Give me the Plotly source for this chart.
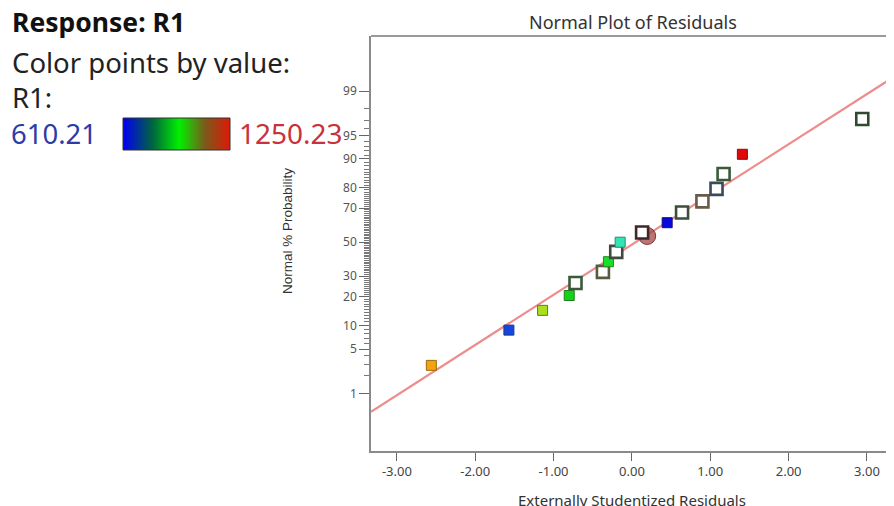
import plotly.graph_objects as go
from statistics import NormalDist

nd = NormalDist()

# ---- data ----
resid = [-2.56, -1.57, -1.14, -0.80, -0.72, -0.37, -0.30, -0.20, -0.15,
         0.13, 0.45, 0.64, 0.90, 1.08, 1.17, 1.41, 2.94]
prob = [2.9, 8.8, 14.7, 20.6, 26.5, 32.4, 38.2, 44.1, 50.0,
        55.9, 61.8, 67.6, 73.5, 79.4, 85.3, 91.2, 97.1]
fill_colors = ["#f2a40a", "#1446e0", "#a8e020", "#14d214", "#ffffff", "#ffffff",
               "#18e028", "#ffffff", "#34e4b4", "#ffffff", "#0808e0", "#ffffff",
               "#ffffff", "#ffffff", "#ffffff", "#e00808", "#ffffff"]
edge_colors = ["#9a6a10", "#203a80", "#607a20", "#208020", "#3a5a3a", "#5a5a40",
               "#208a20", "#404a40", "#2a8a70", "#402828", "#101070", "#3a5038",
               "#6a5a48", "#3a4a58", "#3a5a38", "#801010", "#304a30"]
hollow = [False, False, False, False, True, True, False, True, False,
          True, False, True, True, True, True, False, True]

highlight_x = [0.195]
highlight_p = [53.8]

fit_x = [-3.33, 3.345]
fit_p = [0.454, 99.457]

r1_min, r1_max = 610.21, 1250.23

major_p = [1, 5, 10, 20, 30, 50, 70, 80, 90, 95, 99]
major_lbl = ["1", "5", "10", "20", "30", "50", "70", "80", "90", "95", "99"]
x_ticks = [-3, -2, -1, 0, 1, 2, 3]
x_lbl = ["-3.00", "-2.00", "-1.00", "0.00", "1.00", "2.00", "3.00"]

# ---- layout geometry (window pixels; page has an 8px body margin) ----
OFF = 8
W, H = 894 - OFF, 506 - OFF
L, T, B = 371, 36, 451
CB_L, CB_R, CB_T, CB_B = 123, 230, 118, 150


def z(p):
    return nd.inv_cdf(p / 100.0)


def fx(xp):
    return (xp - OFF) / W


def fy(yp):
    return 1 - (yp - OFF) / H


minor_p = [p for p in range(2, 99) if p not in major_p]

fig = go.Figure()

fig.add_trace(go.Scatter(
    x=fit_x, y=[z(p) for p in fit_p], mode="lines",
    line=dict(color="rgb(238,140,140)", width=2.2), hoverinfo="skip",
    showlegend=False))

fig.add_trace(go.Scatter(
    x=highlight_x, y=[z(p) for p in highlight_p], mode="markers",
    marker=dict(symbol="circle", size=17, color="rgba(165,70,70,0.75)", opacity=1,
                line=dict(color="rgba(110,40,40,0.9)", width=1)),
    showlegend=False))

fig.add_trace(go.Scatter(
    x=resid, y=[z(p) for p in prob], mode="markers",
    marker=dict(symbol="square", opacity=1,
                size=[12 if h else 10 for h in hollow],
                color=fill_colors,
                line=dict(color=edge_colors,
                          width=[2.6 if h else 1.0 for h in hollow])),
    showlegend=False))

# colour-scale legend bar (gradient from min to max of R1)
fig.add_trace(go.Heatmap(
    x=[0, 1], y=[0, 1], z=[[r1_min, r1_max], [r1_min, r1_max]],
    zmin=r1_min, zmax=r1_max, zsmooth="best", showscale=False,
    colorscale=[[0.0, "#0000f0"], [0.28, "#00683a"], [0.52, "#00f000"],
                [0.76, "#7a5a1a"], [1.0, "#e01808"]],
    xaxis="x2", yaxis="y2", hoverinfo="skip"))

axis_col = "#8a8a8a"
fig.update_layout(
    xaxis=dict(domain=[fx(L), 1], range=[-3.33, 3.345], showgrid=False, zeroline=False,
               showline=True, linecolor=axis_col, linewidth=1.5,
               ticks="outside", ticklen=8, tickcolor="#666", tickwidth=1,
               tickvals=x_ticks, ticktext=x_lbl,
               tickfont=dict(family="Noto Sans", size=13, color="#444")),
    yaxis=dict(domain=[fy(B), fy(T)], range=[-3.214, 3.174], showgrid=False,
               zeroline=False, showline=True, linecolor=axis_col, linewidth=1.5,
               ticks="outside", ticklen=10, tickcolor="#666", tickwidth=1,
               tickvals=[z(p) for p in major_p], ticktext=major_lbl,
               tickfont=dict(family="Noto Sans", size=12, color="#555"),
               minor=dict(tickvals=[z(p) for p in minor_p], ticks="outside",
                          ticklen=5, tickcolor="#777", tickwidth=1)),
    xaxis2=dict(domain=[fx(CB_L), fx(CB_R)], range=[0, 1], visible=False,
                anchor="y2"),
    yaxis2=dict(domain=[fy(CB_B), fy(CB_T)], range=[0, 1], visible=False,
                anchor="x2"),
)

# top frame line of the plot area
fig.add_shape(type="line", xref="paper", yref="paper", x0=fx(L), x1=1,
              y0=fy(T), y1=fy(T), line=dict(color="#999", width=2))
# outline of the colour bar
fig.add_shape(type="rect", xref="paper", yref="paper", x0=fx(CB_L), x1=fx(CB_R),
              y0=fy(CB_B), y1=fy(CB_T), line=dict(color="#333", width=1))

ann = [
    dict(text="<b>Response: R1</b>", x=10, y=22, size=26.5, color="#111"),
    dict(text="Color points by value:", x=10, y=62, size=27.5, color="#222"),
    dict(text="R1:", x=10, y=97, size=27.5, color="#222"),
    dict(text="610.21", x=9, y=133, size=27.5, color="#2e3aa6"),
    dict(text="1250.23", x=237, y=133, size=28, color="#c8323a"),
]
for a in ann:
    fig.add_annotation(text=a["text"], xref="paper", yref="paper", x=fx(a["x"]),
                       y=fy(a["y"]), xanchor="left", yanchor="middle", showarrow=False,
                       font=dict(family="Noto Sans", size=a["size"], color=a["color"]))

fig.add_annotation(text="Normal Plot of Residuals", xref="paper", yref="paper",
                   x=fx(633), y=fy(22), xanchor="center", yanchor="middle",
                   showarrow=False, font=dict(family="Noto Sans", size=18, color="#333"))
fig.add_annotation(text="Externally Studentized Residuals", xref="paper", yref="paper",
                   x=fx(632), y=fy(500), xanchor="center", yanchor="middle",
                   showarrow=False, font=dict(family="Noto Sans", size=15, color="#333"))
fig.add_annotation(text="Normal % Probability", xref="paper", yref="paper",
                   x=fx(287), y=fy(231), xanchor="center", yanchor="middle",
                   textangle=-90, showarrow=False,
                   font=dict(family="Liberation Sans Narrow, Liberation Sans", size=13.5,
                             color="#333"))

fig.update_layout(width=W, height=H, margin=dict(l=0, r=0, t=0, b=0),
                  paper_bgcolor="white", plot_bgcolor="white")

fig.write_html("out.html")
